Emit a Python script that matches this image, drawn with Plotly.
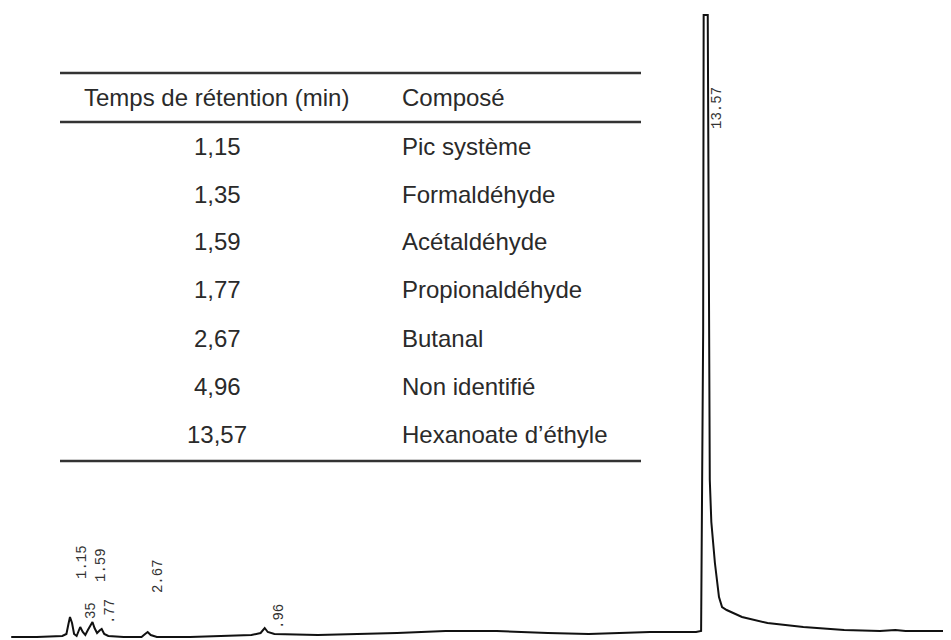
import plotly.graph_objects as go

# chromatogramme (temps en min, signal en unités arbitraires)
temps_min = [0.0, 0.5, 1.0, 1.08, 1.12, 1.15, 1.19, 1.23, 1.28, 1.32, 1.35, 1.40, 1.45,
             1.50, 1.56, 1.59, 1.63, 1.68, 1.74, 1.77, 1.82, 1.90, 2.20, 2.55, 2.62,
             2.67, 2.73, 2.85, 3.50, 4.20, 4.70, 4.88, 4.96, 5.02, 5.15, 6.00, 7.20,
             7.55, 8.50, 9.50, 10.50, 11.30, 12.50, 13.40, 13.50, 13.54, 13.55, 13.63,
             13.67, 13.70, 13.77, 13.85, 13.91, 14.00, 14.30, 14.80, 15.50, 16.30,
             17.00, 17.30, 17.50, 18.40]
signal = [-5, -5, -4, -2, 8, 15, 9, -2, -4, 2, 5, 0, -3,
          2, 8, 10, 4, -1, 2, 3, -2, -4, -5, -5, -2,
          0, -3, -5, -5, -4, -3, -1, 4, 0, -2, -3, -2,
          -1, 1, 1, -1, -2, 0, 0, 1, 300, 617, 617,
          152, 110, 69, 35, 25, 22, 15, 9, 5, 2,
          1, 2, 1, 1]

# étiquettes imprimées sur le tracé
pic_labels = ["1.15", "1.59", "2.67", "35", ".77", ".96", "13.57"]
pic_x = [1.385, 1.757, 2.873, 1.562, 1.933, 5.24, 13.81]
pic_y = [70, 67, 56, 21, 20, 15, 524]

# tableau
tr_min = ["1,15", "1,35", "1,59", "1,77", "2,67", "4,96", "13,57"]
composes = ["Pic système", "Formaldéhyde", "Acétaldéhyde", "Propionaldéhyde",
            "Butanal", "Non identifié", "Hexanoate d’éthyle"]

# la page ajoute 8 px de marge autour du graphique
OFF = 8
W, H = 951 - OFF, 640 - OFF
fig = go.Figure()
fig.add_trace(go.Scatter(x=temps_min, y=signal, mode="lines",
                         line=dict(color="#111", width=2), hoverinfo="skip"))

for t, x, y in zip(pic_labels, pic_x, pic_y):
    fig.add_annotation(x=x, y=y, text=t, textangle=-90, showarrow=False,
                       xanchor="center", yanchor="middle",
                       font=dict(family="Liberation Mono", size=14, color="#333"))

def px(x): return (x - OFF) / W
def py(y): return 1 - (y - OFF) / H

txt = dict(family="Liberation Sans", size=24, color="#2a2a2a")
for y in [73, 122, 461]:
    fig.add_shape(type="line", xref="paper", yref="paper", x0=px(60), x1=px(641),
                  y0=py(y), y1=py(y), line=dict(color="#333", width=2.5))

def cell(x, y, s, anchor):
    fig.add_annotation(xref="paper", yref="paper", x=px(x), y=py(y), text=s,
                       showarrow=False, xanchor=anchor, yanchor="middle", font=txt)

cell(216, 98, "Temps de rétention (min)", "center")
cell(400, 98, "Composé", "left")
for i, (a, b) in enumerate(zip(tr_min, composes)):
    yy = 146 + 48 * i
    cell(217, yy, a, "center")
    cell(400, yy, b, "left")

fig.update_layout(width=W, height=H, margin=dict(l=0, r=0, t=0, b=0),
                  paper_bgcolor="white", plot_bgcolor="white", showlegend=False,
                  xaxis=dict(range=[-0.063, 18.39], visible=False),
                  yaxis=dict(range=[-8, 624], visible=False))
fig.write_html("out.html")
